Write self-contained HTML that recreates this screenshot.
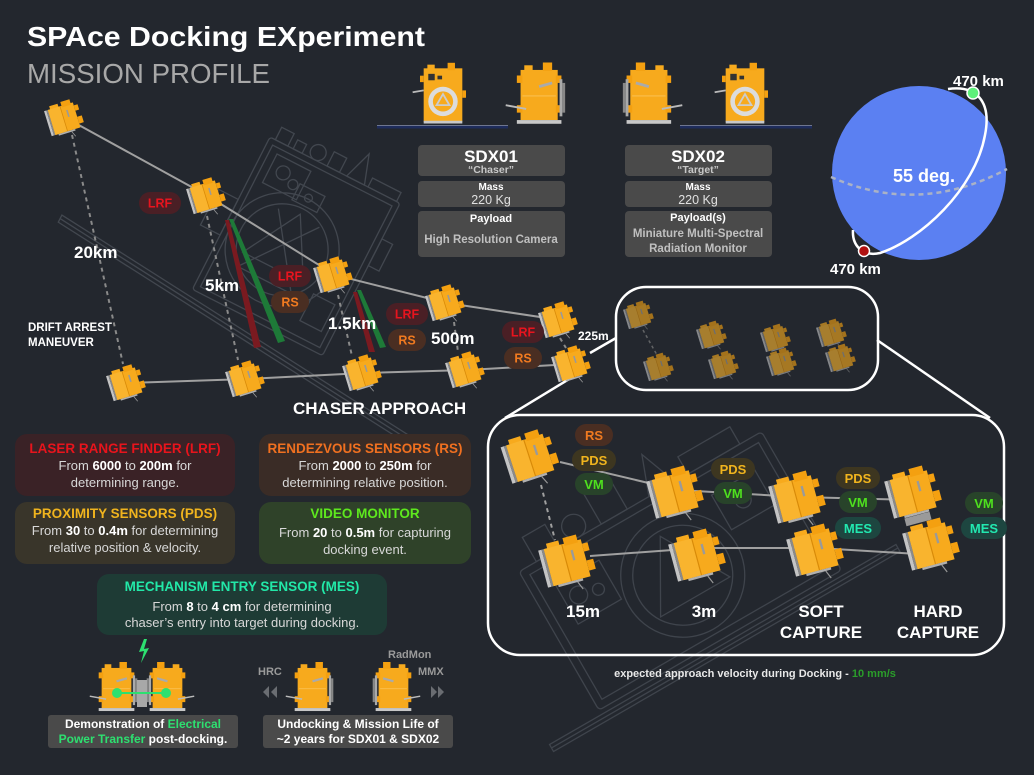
<!DOCTYPE html>
<html><head><meta charset="utf-8"><style>
html,body{margin:0;padding:0;background:#23272e;}
svg{display:block;font-family:"Liberation Sans",sans-serif;}
</style></head><body>
<svg width="1034" height="775" viewBox="0 0 1034 775" xmlns="http://www.w3.org/2000/svg">
<defs>
<symbol id="sat" viewBox="0 0 48 44" overflow="visible">
 <rect x="0" y="5" width="3" height="33" fill="#c4c4c4"/>
 <rect x="3" y="5" width="2" height="33" fill="#8a8a8a"/>
 <rect x="5" y="5" width="33" height="33" fill="#f7aa1d"/>
 <rect x="8" y="1" width="11" height="6" fill="#f7aa1d"/>
 <rect x="23" y="0" width="12" height="7" fill="#f4a010"/>
 <rect x="38" y="9" width="5" height="7" fill="#f4a010"/>
 <rect x="38" y="24" width="6" height="9" fill="#f4a010"/>
 <rect x="5" y="5" width="16" height="33" fill="#f9b42e"/>
 <line x1="21" y1="5" x2="21" y2="38" stroke="#d88a08" stroke-width="1"/>
 <rect x="27" y="12" width="2" height="9" fill="#9a9a9a"/>
 <rect x="9" y="38" width="22" height="2" fill="#b0b0b0"/>
 <line x1="26" y1="40" x2="29" y2="47" stroke="#999" stroke-width="1"/>
</symbol>
<symbol id="front" viewBox="0 0 50 70" overflow="visible">
 <rect x="4" y="6" width="42" height="58" fill="#f7aa1d"/>
 <rect x="8" y="2" width="8" height="6" fill="#f7aa1d"/>
 <rect x="30" y="0" width="8" height="8" fill="#f4a010"/>
 <rect x="0" y="14" width="4" height="7" fill="#f4a010"/>
 <rect x="46" y="30" width="4" height="8" fill="#f4a010"/>
 <rect x="9" y="12" width="7" height="7" fill="#333"/>
 <rect x="19" y="14" width="5" height="4" fill="#333"/>
 <line x1="4" y1="30" x2="-8" y2="32" stroke="#bbb" stroke-width="2"/>
 <circle cx="25" cy="42" r="16" fill="#dcdcdc"/>
 <circle cx="25" cy="42" r="11" fill="#f7aa1d"/>
 <polygon points="25,34 32,46 18,46" fill="none" stroke="#ccc" stroke-width="2"/>
 <rect x="4" y="63" width="42" height="3" fill="#c8c8c8"/>
</symbol>
<symbol id="side" viewBox="0 0 56 70" overflow="visible">
 <rect x="6" y="8" width="40" height="54" fill="#f7aa1d"/>
 <rect x="10" y="3" width="9" height="7" fill="#f7aa1d"/>
 <rect x="30" y="0" width="10" height="9" fill="#f4a010"/>
 <rect x="2" y="14" width="6" height="8" fill="#f4a010"/>
 <rect x="2" y="46" width="6" height="8" fill="#f4a010"/>
 <rect x="44" y="14" width="6" height="8" fill="#f4a010"/>
 <rect x="44" y="46" width="6" height="8" fill="#f4a010"/>
 <line x1="8" y1="36" x2="44" y2="36" stroke="#fbc45a" stroke-width="1"/>
 <line x1="26" y1="26" x2="40" y2="22" stroke="#aaa" stroke-width="3"/>
 <line x1="12" y1="50" x2="-10" y2="46" stroke="#bbb" stroke-width="2"/>
 <rect x="2" y="62" width="48" height="4" fill="#c8c8c8"/>
 <rect x="48" y="18" width="3" height="40" fill="#aaa"/>
 <rect x="51" y="22" width="3" height="32" fill="#888"/>
</symbol>
<g id="bp" fill="none" stroke="#3f444c" stroke-width="1.3">
  <rect x="0" y="40" width="280" height="160" rx="4"/>
  <rect x="8" y="48" width="264" height="144"/>
  <rect x="20" y="12" width="26" height="28"/>
  <circle cx="70" cy="28" r="12"/>
  <rect x="95" y="5" width="30" height="35"/>
  <polygon points="150,40 165,0 180,40"/>
  <rect x="195" y="20" width="60" height="20"/>
  <circle cx="140" cy="125" r="62"/>
  <circle cx="140" cy="125" r="50"/>
  <polygon points="140,80 180,150 100,150"/>
  <rect x="25" y="70" width="50" height="45"/>
  <circle cx="40" cy="90" r="9"/><circle cx="60" cy="95" r="6"/>
  <rect x="205" y="70" width="50" height="40"/>
  <circle cx="230" cy="90" r="8"/>
  <rect x="-60" y="205" width="400" height="8"/>
  <line x1="-60" y1="209" x2="340" y2="209"/>
</g>
</defs>

<rect width="1034" height="775" fill="#23272e"/>

<!-- blueprint 1 -->
<g transform="translate(270,137) rotate(27)" fill="none" stroke="#42474f" stroke-width="1.3">
 <rect x="0" y="0" width="146" height="171" rx="3"/>
 <rect x="6" y="6" width="134" height="159"/>
 <rect x="6" y="-14" width="14" height="14"/>
 <rect x="26" y="-10" width="10" height="10"/>
 <circle cx="50" cy="-8" r="8"/>
 <rect x="64" y="-16" width="14" height="16"/>
 <polygon points="86,0 96,-30 106,0"/>
 <rect x="110" y="-10" width="32" height="10"/>
 <circle cx="62" cy="95" r="57"/>
 <circle cx="62" cy="95" r="46"/>
 <polygon points="62,55 96,115 28,115"/>
 <polyline points="40,60 90,130 30,130 85,58"/>
 <rect x="14" y="12" width="38" height="32"/>
 <circle cx="28" cy="26" r="7"/><circle cx="42" cy="32" r="5"/>
 <rect x="48" y="28" width="28" height="18"/>
 <circle cx="62" cy="37" r="4"/>
 <rect x="-22" y="70" width="22" height="40"/>
 <rect x="146" y="40" width="12" height="30"/>
 <rect x="110" y="120" width="24" height="30"/>
 <polygon points="-150,164 262,203 262,211 -150,172"/>
 <line x1="-150" y1="168" x2="262" y2="207"/>
</g>
<!-- blueprint 2 -->
<use href="#bp" transform="translate(499,537) rotate(-30)"/>

<!-- Title -->
<text x="27" y="46" font-size="28" font-weight="bold" fill="#fff" textLength="398" lengthAdjust="spacingAndGlyphs">SPAce Docking EXperiment</text>
<text x="27" y="83" font-size="28" fill="#a8a8a8" textLength="243" lengthAdjust="spacingAndGlyphs">MISSION PROFILE</text>

<!-- trajectory lines -->
<g stroke="#a0a0a0" stroke-width="2" fill="none">
 <polyline points="66,118 208,196 335,275 447,303 560,320"/>
 <polyline points="128,383 247,379 364,373 467,370 573,364"/>
</g>
<g stroke="#8a8a8a" stroke-width="2" stroke-dasharray="4 4" fill="none">
 <line x1="72" y1="135" x2="123" y2="364"/>
 <line x1="207" y1="216" x2="238" y2="360"/>
 <line x1="338" y1="295" x2="352" y2="356"/>
 <line x1="454" y1="322" x2="458" y2="352"/>
 <line x1="560" y1="338" x2="566" y2="348"/>
</g>
<!-- beams -->
<polygon points="225,220 229,220 261,347 254,348" fill="#7a1a20"/>
<polygon points="229,219 233,219 285,341 278,343" fill="#1e7a38"/>
<polygon points="353,292 357,292 375,352 369,352" fill="#7a1a20"/>
<polygon points="357,290 361,290 386,347 380,348" fill="#1e7a38"/>

<!-- connector lines to boxes -->
<g stroke="#fff" stroke-width="2.5" fill="none">
 <line x1="590" y1="353" x2="616" y2="338"/>
 <line x1="584" y1="370" x2="505" y2="418"/>
 <line x1="877" y1="340" x2="990" y2="418"/>
 <rect x="616" y="287" width="262" height="103" rx="30"/>
 <rect x="488" y="415" width="516" height="240" rx="32"/>
</g>

<!-- trajectory sats -->
<g>
 <use href="#sat" x="-19" y="-17" width="38" height="35" transform="translate(66,118) rotate(-17)"/>
 <use href="#sat" x="-19" y="-17" width="38" height="35" transform="translate(208,196) rotate(-17)"/>
 <use href="#sat" x="-19" y="-17" width="38" height="35" transform="translate(335,275) rotate(-17)"/>
 <use href="#sat" x="-19" y="-17" width="38" height="35" transform="translate(447,303) rotate(-17)"/>
 <use href="#sat" x="-19" y="-17" width="38" height="35" transform="translate(560,320) rotate(-17)"/>
 <use href="#sat" x="-19" y="-17" width="38" height="35" transform="translate(128,383) rotate(-17)"/>
 <use href="#sat" x="-19" y="-17" width="38" height="35" transform="translate(247,379) rotate(-17)"/>
 <use href="#sat" x="-19" y="-17" width="38" height="35" transform="translate(364,373) rotate(-17)"/>
 <use href="#sat" x="-19" y="-17" width="38" height="35" transform="translate(467,370) rotate(-17)"/>
 <use href="#sat" x="-19" y="-17" width="38" height="35" transform="translate(573,364) rotate(-17)"/>
</g>

<!-- trajectory pills -->
<g font-size="12.5" font-weight="bold" text-anchor="middle">
 <rect x="139" y="192" width="42" height="22" rx="11" fill="#4a1f25"/><text x="160" y="207.5" fill="#e8141e">LRF</text>
 <rect x="269" y="265" width="42" height="22" rx="11" fill="#4a1f25"/><text x="290" y="280.5" fill="#e8141e">LRF</text>
 <rect x="271" y="291" width="38" height="22" rx="11" fill="#4a2e22"/><text x="290" y="306.5" fill="#f07a20">RS</text>
 <rect x="386" y="303" width="42" height="22" rx="11" fill="#4a1f25"/><text x="407" y="318.5" fill="#e8141e">LRF</text>
 <rect x="388" y="329" width="38" height="22" rx="11" fill="#4a2e22"/><text x="407" y="344.5" fill="#f07a20">RS</text>
 <rect x="502" y="321" width="42" height="22" rx="11" fill="#4a1f25"/><text x="523" y="336.5" fill="#e8141e">LRF</text>
 <rect x="504" y="347" width="38" height="22" rx="11" fill="#4a2e22"/><text x="523" y="362.5" fill="#f07a20">RS</text>
</g>

<!-- trajectory labels -->
<g fill="#fff" font-weight="bold">
 <text x="74" y="258" font-size="17">20km</text>
 <text x="205" y="291" font-size="17">5km</text>
 <text x="328" y="329" font-size="17">1.5km</text>
 <text x="431" y="344" font-size="17">500m</text>
 <text x="578" y="340" font-size="12">225m</text>
 <text x="28" y="331" font-size="11.5">DRIFT ARREST</text>
 <text x="28" y="346" font-size="11.5">MANEUVER</text>
 <text x="293" y="414" font-size="17">CHASER APPROACH</text>
</g>

<!-- top sats -->
<line x1="377" y1="127" x2="508" y2="127" stroke="#1e2c5c" stroke-width="3"/>
<line x1="377" y1="125.5" x2="508" y2="125.5" stroke="#8890a8" stroke-width="0.8"/>
<line x1="680" y1="127" x2="812" y2="127" stroke="#1e2c5c" stroke-width="3"/>
<line x1="680" y1="125.5" x2="812" y2="125.5" stroke="#8890a8" stroke-width="0.8"/>
<use href="#front" x="420" y="62" width="46" height="66"/>
<use href="#side" x="515" y="62" width="52" height="66"/>
<use href="#side" x="0" y="0" width="52" height="66" transform="translate(673,62) scale(-1,1)"/>
<use href="#front" x="722" y="62" width="46" height="66"/>

<!-- cards -->
<g fill="#4a4a4a">
 <rect x="418" y="145" width="147" height="31" rx="4"/>
 <rect x="418" y="181" width="147" height="26" rx="4"/>
 <rect x="418" y="211" width="147" height="46" rx="4"/>
 <rect x="625" y="145" width="147" height="31" rx="4"/>
 <rect x="625" y="181" width="147" height="26" rx="4"/>
 <rect x="625" y="211" width="147" height="46" rx="4"/>
</g>
<g text-anchor="middle" font-weight="bold">
 <text x="491" y="162" font-size="17" fill="#fff">SDX01</text>
 <text x="491" y="173" font-size="10.5" fill="#c8c8c8">“Chaser”</text>
 <text x="491" y="190" font-size="10" fill="#fff">Mass</text>
 <text x="491" y="204" font-size="12.5" fill="#e0e0e0" font-weight="normal">220 Kg</text>
 <text x="491" y="222" font-size="11" fill="#fff">Payload</text>
 <text x="491" y="243" font-size="11.5" fill="#c0c0c0">High Resolution Camera</text>
 <text x="698" y="162" font-size="17" fill="#fff">SDX02</text>
 <text x="698" y="173" font-size="10.5" fill="#c8c8c8">“Target”</text>
 <text x="698" y="190" font-size="10" fill="#fff">Mass</text>
 <text x="698" y="204" font-size="12.5" fill="#e0e0e0" font-weight="normal">220 Kg</text>
 <text x="698" y="221" font-size="11" fill="#fff">Payload(s)</text>
 <text x="698" y="237" font-size="11.5" fill="#c0c0c0">Miniature Multi-Spectral</text>
 <text x="698" y="252" font-size="11.5" fill="#c0c0c0">Radiation Monitor</text>
</g>

<!-- globe -->
<circle cx="919" cy="173" r="87" fill="#5b80f2"/>
<path d="M 831 177 Q 919 216 1007 169" fill="none" stroke="#aab2c6" stroke-width="2.5" stroke-dasharray="5 4"/>
<path d="M 948 89 C 975 85, 992 100, 985 135 C 975 190, 920 240, 880 253 C 862 257, 852 245, 853 230" fill="none" stroke="#fff" stroke-width="2.5"/>
<circle cx="973" cy="93" r="6" fill="#5ef07a" stroke="#fff" stroke-width="1.5"/>
<circle cx="864" cy="251" r="5.5" fill="#b01010" stroke="#fff" stroke-width="1.5"/>
<g fill="#fff" font-weight="bold">
 <text x="953" y="86" font-size="15">470 km</text>
 <text x="830" y="274" font-size="15">470 km</text>
 <text x="893" y="182" font-size="18">55 deg.</text>
</g>

<!-- small box sats -->
<g opacity="0.62">
 <line x1="643" y1="330" x2="657" y2="355" stroke="#888" stroke-width="1.5" stroke-dasharray="3 3"/>
 <use href="#sat" x="-15" y="-13" width="30" height="27" transform="translate(640,315) rotate(-17)"/>
 <use href="#sat" x="-15" y="-13" width="30" height="27" transform="translate(660,367) rotate(-17)"/>
 <use href="#sat" x="-15" y="-13" width="30" height="27" transform="translate(713,335) rotate(-17)"/>
 <use href="#sat" x="-15" y="-13" width="30" height="27" transform="translate(725,365) rotate(-17)"/>
 <use href="#sat" x="-15" y="-13" width="30" height="27" transform="translate(777,338) rotate(-17)"/>
 <use href="#sat" x="-15" y="-13" width="30" height="27" transform="translate(783,362) rotate(-17)"/>
 <use href="#sat" x="-15" y="-13" width="30" height="27" transform="translate(833,333) rotate(-17)"/>
 <use href="#sat" x="-15" y="-13" width="30" height="27" transform="translate(842,358) rotate(-17)"/>
</g>

<!-- big box lines -->
<g stroke="#a0a0a0" stroke-width="2" fill="none">
 <polyline points="560,462 678,490 800,497 916,500"/>
 <polyline points="590,556 700,548 818,548 934,555"/>
 <line x1="541" y1="485" x2="555" y2="540" stroke-dasharray="4 4"/>
</g>
<!-- big box sats -->
<g>
 <use href="#sat" x="-28" y="-25" width="56" height="51" transform="translate(533,457) rotate(-18)"/>
 <use href="#sat" x="-28" y="-25" width="56" height="51" transform="translate(570,562) rotate(-15)"/>
 <use href="#sat" x="-28" y="-25" width="56" height="51" transform="translate(678,493) rotate(-15)"/>
 <use href="#sat" x="-28" y="-25" width="56" height="51" transform="translate(700,556) rotate(-15)"/>
 <use href="#sat" x="-28" y="-25" width="56" height="51" transform="translate(800,498) rotate(-15)"/>
 <use href="#sat" x="-28" y="-25" width="56" height="51" transform="translate(818,551) rotate(-15)"/>
 <use href="#sat" x="-28" y="-25" width="56" height="51" transform="translate(916,493) rotate(-15)"/>
 <rect x="905" y="515" width="26" height="8" fill="#9a9a9a" transform="rotate(-15 918 519)"/>
 <use href="#sat" x="-28" y="-25" width="56" height="51" transform="translate(934,545) rotate(-15)"/>
</g>
<!-- big box pills -->
<g font-size="13" font-weight="bold" text-anchor="middle">
 <rect x="575" y="424" width="38" height="22" rx="11" fill="#4a2e22"/><text x="594" y="440" fill="#f07a20">RS</text>
 <rect x="572" y="449" width="44" height="22" rx="11" fill="#3d3620"/><text x="594" y="465" fill="#f0b41e">PDS</text>
 <rect x="575" y="473" width="38" height="22" rx="11" fill="#28432a"/><text x="594" y="489" fill="#4ee01e">VM</text>
 <rect x="711" y="458" width="44" height="22" rx="11" fill="#3d3620"/><text x="733" y="474" fill="#f0b41e">PDS</text>
 <rect x="714" y="482" width="38" height="22" rx="11" fill="#28432a"/><text x="733" y="498" fill="#4ee01e">VM</text>
 <rect x="836" y="467" width="44" height="22" rx="11" fill="#3d3620"/><text x="858" y="483" fill="#f0b41e">PDS</text>
 <rect x="839" y="491" width="38" height="22" rx="11" fill="#28432a"/><text x="858" y="507" fill="#4ee01e">VM</text>
 <rect x="835" y="517" width="46" height="22" rx="11" fill="#1d4640"/><text x="858" y="533" fill="#22e8b0">MES</text>
 <rect x="965" y="492" width="38" height="22" rx="11" fill="#28432a"/><text x="984" y="508" fill="#4ee01e">VM</text>
 <rect x="961" y="517" width="46" height="22" rx="11" fill="#1d4640"/><text x="984" y="533" fill="#22e8b0">MES</text>
</g>
<g fill="#fff" font-weight="bold" font-size="17" text-anchor="middle">
 <text x="583" y="617">15m</text>
 <text x="704" y="617">3m</text>
 <text x="821" y="617">SOFT</text>
 <text x="821" y="638">CAPTURE</text>
 <text x="938" y="617">HARD</text>
 <text x="938" y="638">CAPTURE</text>
</g>
<text x="755" y="677" text-anchor="middle" font-size="11" font-weight="bold" fill="#e8e8e8">expected approach velocity during Docking - <tspan fill="#2a9d2a">10 mm/s</tspan></text>

<!-- legend boxes -->
<rect x="15" y="434" width="220" height="62" rx="12" fill="#3a2226"/>
<rect x="259" y="434" width="212" height="62" rx="12" fill="#3a2c26"/>
<rect x="15" y="502" width="220" height="62" rx="12" fill="#39352a"/>
<rect x="259" y="502" width="212" height="62" rx="12" fill="#2f4229"/>
<rect x="97" y="574" width="290" height="61" rx="12" fill="#1e3b35"/>
<g text-anchor="middle" font-size="13" fill="#d8d8d8">
 <text x="125" y="453" font-weight="bold" font-size="13.5" fill="#e8141c">LASER RANGE FINDER (LRF)</text>
 <text x="125" y="470">From <tspan font-weight="bold" fill="#fff">6000</tspan> to <tspan font-weight="bold" fill="#fff">200m</tspan> for</text>
 <text x="125" y="487">determining range.</text>
 <text x="365" y="453" font-weight="bold" font-size="13.5" fill="#f07020">RENDEZVOUS SENSORS (RS)</text>
 <text x="365" y="470">From <tspan font-weight="bold" fill="#fff">2000</tspan> to <tspan font-weight="bold" fill="#fff">250m</tspan> for</text>
 <text x="365" y="487">determining relative position.</text>
 <text x="125" y="518" font-weight="bold" font-size="13.5" fill="#f0b41e">PROXIMITY SENSORS (PDS)</text>
 <text x="125" y="535">From <tspan font-weight="bold" fill="#fff">30</tspan> to <tspan font-weight="bold" fill="#fff">0.4m</tspan> for determining</text>
 <text x="125" y="552">relative position &amp; velocity.</text>
 <text x="365" y="518" font-weight="bold" font-size="13.5" fill="#5ee81e">VIDEO MONITOR</text>
 <text x="365" y="537">From <tspan font-weight="bold" fill="#fff">20</tspan> to <tspan font-weight="bold" fill="#fff">0.5m</tspan> for capturing</text>
 <text x="365" y="554">docking event.</text>
 <text x="242" y="591" font-weight="bold" font-size="13.5" fill="#22e8a8">MECHANISM ENTRY SENSOR (MES)</text>
 <text x="242" y="611">From <tspan font-weight="bold" fill="#fff">8</tspan> to <tspan font-weight="bold" fill="#fff">4 cm</tspan> for determining</text>
 <text x="242" y="627">chaser’s entry into target during docking.</text>
</g>

<!-- bottom: power transfer -->
<polygon points="144,639 139,652 144,651 141,663 149,648 144,649 147,639" fill="#2de070"/>
<use href="#side" x="96" y="662" width="44" height="52"/>
<use href="#side" x="0" y="0" width="44" height="52" transform="translate(188,662) scale(-1,1)"/>
<rect x="137" y="680" width="10" height="27" fill="#a8a8a8"/>
<line x1="117" y1="693" x2="166" y2="693" stroke="#2de070" stroke-width="2"/>
<circle cx="117" cy="693" r="5" fill="#2de070"/>
<circle cx="166" cy="693" r="5" fill="#2de070"/>
<rect x="48" y="715" width="190" height="33" rx="3" fill="#4a4a4a"/>
<g text-anchor="middle" font-size="12" font-weight="bold" fill="#fff">
 <text x="143" y="728">Demonstration of <tspan fill="#2de070">Electrical</tspan></text>
 <text x="143" y="743"><tspan fill="#2de070">Power Transfer</tspan> post-docking.</text>
</g>

<!-- bottom: undocking -->
<use href="#side" x="292" y="662" width="44" height="52"/>
<use href="#side" x="0" y="0" width="44" height="52" transform="translate(414,662) scale(-1,1)"/>
<g fill="#9a9a9a" font-weight="bold" font-size="11">
 <text x="258" y="675">HRC</text>
 <text x="388" y="658">RadMon</text>
 <text x="418" y="675">MMX</text>
</g>
<g fill="#6a6d72">
 <polygon points="269,686 263,692 269,698"/>
 <polygon points="277,686 271,692 277,698"/>
 <polygon points="431,686 437,692 431,698"/>
 <polygon points="438,686 444,692 438,698"/>
</g>
<rect x="263" y="715" width="190" height="33" rx="3" fill="#4a4a4a"/>
<g text-anchor="middle" font-size="12" font-weight="bold" fill="#fff">
 <text x="358" y="728">Undocking &amp; Mission Life of</text>
 <text x="358" y="743">~2 years for SDX01 &amp; SDX02</text>
</g>
</svg>
</body></html>
